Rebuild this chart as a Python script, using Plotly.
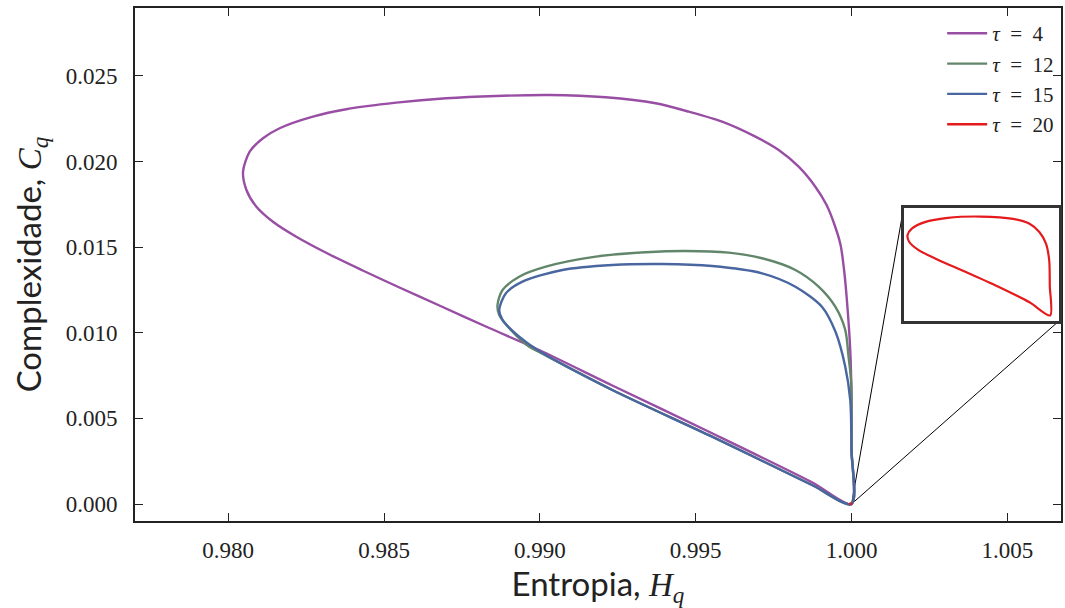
import plotly.graph_objects as go

# ---- data ----
tau4_H = [1.000000, 0.999999, 0.999998, 0.999958, 0.999850, 0.999760, 0.999648, 0.999456,
          0.999199, 0.998838, 0.998303, 0.997662, 0.996916, 0.995847, 0.994780, 0.993714,
          0.992113, 0.990297, 0.988590, 0.986989, 0.985388, 0.983787, 0.982717, 0.981651,
          0.981116, 0.980690, 0.980476, 0.980585, 0.980905, 0.981436, 0.982186, 0.983252,
          0.984318, 0.985494, 0.986775, 0.988376, 0.989977, 0.992324, 0.995526, 0.998729, 1.000000]
tau4_C = [0.000000, 0.003154, 0.006075, 0.008995, 0.011916, 0.013668, 0.015128, 0.016297,
          0.017465, 0.018534, 0.019702, 0.020677, 0.021454, 0.022331, 0.022915, 0.023405,
          0.023756, 0.023890, 0.023832, 0.023697, 0.023440, 0.023055, 0.022623, 0.021945,
          0.021361, 0.020578, 0.019410, 0.018341, 0.017366, 0.016489, 0.015613, 0.014574,
          0.013639, 0.012646, 0.011595, 0.010280, 0.008995, 0.006922, 0.004130, 0.001268, 0.000000]

tau12_H = [1.000000, 0.999999, 0.999990, 0.999904, 0.999798, 0.999478, 0.998943, 0.998197,
           0.997128, 0.996061, 0.994675, 0.993394, 0.991793, 0.990191, 0.989336, 0.988802,
           0.988641, 0.988696, 0.989122, 0.989657, 0.989977, 0.992324, 0.995526, 0.998729, 1.000000]
tau12_C = [0.000000, 0.003154, 0.007068, 0.008604, 0.010164, 0.011524, 0.012693, 0.013668,
           0.014352, 0.014679, 0.014778, 0.014702, 0.014445, 0.013861, 0.013277, 0.012500,
           0.011624, 0.011040, 0.010064, 0.009188, 0.008878, 0.006659, 0.003931, 0.001110, 0.000000]

tau15_H = [1.000000, 0.999999, 0.999958, 0.999798, 0.999488, 0.999049, 0.998197, 0.997128,
           0.995526, 0.993925, 0.992324, 0.990723, 0.989442, 0.988910, 0.988696, 0.988802,
           0.989336, 0.989977, 0.992324, 0.995526, 0.998729, 1.000000]
tau15_C = [0.000000, 0.003154, 0.006075, 0.008020, 0.010047, 0.011524, 0.012693, 0.013475,
           0.013902, 0.014019, 0.013960, 0.013668, 0.012985, 0.012307, 0.011332, 0.010748,
           0.009772, 0.008937, 0.006659, 0.003931, 0.001110, 0.000000]

tau20_H = [1.0000000, 0.9999999, 0.9999997, 0.9999987, 0.9999967, 0.9999937, 0.9999887,
           0.9999787, 0.9999687, 0.9999617, 0.9999577, 0.9999564, 0.9999569, 0.9999597,
           0.9999657, 0.9999737, 0.9999837, 0.9999937, 1.0000000]
tau20_C = [0.0, 9.0e-6, 1.70e-5, 2.20e-5, 2.55e-5, 2.80e-5, 2.95e-5, 3.02e-5, 2.98e-5,
           2.85e-5, 2.65e-5, 2.45e-5, 2.25e-5, 2.00e-5, 1.70e-5, 1.35e-5, 9.0e-6, 4.0e-6, 0.0]

series = [
    ("<i>τ</i>\u2002=\u20024", tau4_H, tau4_C, "#984EA3"),
    ("<i>τ</i>\u2002=\u200212", tau12_H, tau12_C, "#62866A"),
    ("<i>τ</i>\u2002=\u200215", tau15_H, tau15_C, "#4A66A0"),
    ("<i>τ</i>\u2002=\u200220", tau20_H, tau20_C, "#E41A1C"),
]

x_ticks = [0.980, 0.985, 0.990, 0.995, 1.000, 1.005]
y_ticks = [0.000, 0.005, 0.010, 0.015, 0.020, 0.025]
x_range = [0.97701, 1.00672]
y_range = [-0.000993, 0.02897]
inset_x_range = [0.9999552, 1.0000027]
inset_y_range = [-1.7e-6, 3.28e-5]
inset_dom_x = [0.8300, 0.9978]
inset_dom_y = [0.3899, 0.6101]

fig = go.Figure()
for name, H, C, col in series:
    fig.add_trace(go.Scatter(x=H, y=C, mode="lines", name=name,
                             line=dict(color=col, width=2.4, shape="spline", smoothing=0.8)))
# inset: tau = 20 zoomed
fig.add_trace(go.Scatter(x=tau20_H, y=tau20_C, mode="lines", showlegend=False,
                         line=dict(color="#E41A1C", width=2.2, shape="spline", smoothing=0.8),
                         xaxis="x2", yaxis="y2"))

serif = "'Liberation Serif', 'Times New Roman', serif"
sans = "Lato, 'Open Sans', sans-serif"
axcol = "#222222"

fig.update_layout(
    width=1065, height=608,
    margin=dict(l=135, r=2, t=8, b=87),
    paper_bgcolor="white", plot_bgcolor="white",
    showlegend=True,
    legend=dict(x=0.998, xanchor="right", y=0.99, yanchor="top",
                font=dict(family=serif, size=21, color="#222"),
                bgcolor="rgba(0,0,0,0)", tracegroupgap=0, itemwidth=40),
    xaxis=dict(range=x_range, tickvals=x_ticks, tickformat=".3f",
               showline=True, linecolor=axcol, linewidth=2, mirror="ticks",
               ticks="inside", ticklen=8, tickwidth=1.2, tickcolor=axcol,
               showgrid=False, zeroline=False,
               tickfont=dict(family=serif, size=23, color="#222"),
               ticklabelstandoff=7,
               title=dict(text="Entropia, <span style='font-family:Liberation Serif'><i>H</i><sub><i>q</i></sub></span>",
                          font=dict(family=sans, size=33, color="#222"), standoff=8)),
    yaxis=dict(range=y_range, tickvals=y_ticks, tickformat=".3f",
               showline=True, linecolor=axcol, linewidth=2, mirror="ticks",
               ticks="inside", ticklen=8, tickwidth=1.2, tickcolor=axcol,
               showgrid=False, zeroline=False,
               tickfont=dict(family=serif, size=23, color="#222"),
               ticklabelstandoff=11,
               title=dict(text="Complexidade, <span style='font-family:Liberation Serif'><i>C</i><sub><i>q</i></sub></span>",
                          font=dict(family=sans, size=33, color="#222"), standoff=14)),
    xaxis2=dict(domain=inset_dom_x, anchor="y2", range=inset_x_range,
                showticklabels=False, ticks="", showgrid=False, zeroline=False,
                showline=True, linecolor="#333333", linewidth=3, mirror=True),
    yaxis2=dict(domain=inset_dom_y, anchor="x2", range=inset_y_range,
                showticklabels=False, ticks="", showgrid=False, zeroline=False,
                showline=True, linecolor="#333333", linewidth=3, mirror=True),
)

# connector lines (mark_inset style) from the zoomed point to the inset corners
px0 = (1.0 - x_range[0]) / (x_range[1] - x_range[0])
py0 = (0.0 - y_range[0]) / (y_range[1] - y_range[0])
fig.add_shape(type="line", xref="paper", yref="paper", x0=px0, y0=py0,
              x1=inset_dom_x[0], y1=inset_dom_y[1], line=dict(color="black", width=1), layer="below")
fig.add_shape(type="line", xref="paper", yref="paper", x0=px0, y0=py0,
              x1=inset_dom_x[1], y1=inset_dom_y[0], line=dict(color="black", width=1), layer="below")

fig.write_html("out.html")
